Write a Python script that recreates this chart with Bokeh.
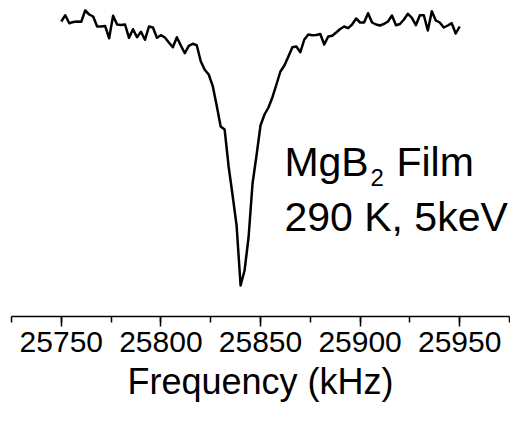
from bokeh.plotting import figure
from bokeh.models import Range1d, SingleIntervalTicker, Label
from bokeh.embed import file_html
from bokeh.resources import INLINE

# Frequency (kHz)
freq = [25750, 25752, 25754, 25756, 25758, 25760, 25762, 25764, 25766, 25768,
        25770, 25772, 25774, 25776, 25778, 25780, 25782, 25784, 25786, 25788,
        25790, 25792, 25794, 25796, 25798, 25800, 25802, 25804, 25806, 25808,
        25810, 25812, 25814, 25816, 25818, 25820, 25822, 25824, 25826, 25828,
        25830, 25832, 25834, 25836, 25838, 25840, 25842, 25844, 25846, 25848,
        25850, 25852, 25854, 25856, 25858, 25860, 25862, 25864, 25866, 25868,
        25870, 25872, 25874, 25876, 25878, 25880, 25882, 25884, 25886, 25888,
        25890, 25892, 25894, 25896, 25898, 25900, 25902, 25904, 25906, 25908,
        25910, 25912, 25914, 25916, 25918, 25920, 25922, 25924, 25926, 25928,
        25930, 25932, 25934, 25936, 25938, 25940, 25942, 25944, 25946, 25948,
        25950]

# Signal (arbitrary units)
signal = [295, 301.3, 293.3, 294.5, 295, 294.7, 306, 302, 300, 290,
          290, 290.5, 278.3, 300.7, 292, 291.5, 292, 278.7, 287.3, 279.3,
          284.7, 276.7, 290, 289, 278.7, 281.3, 279, 274, 269.3, 279.3,
          271, 263.3, 270.7, 272.7, 271.3, 255.3, 246.7, 242, 230.7, 211,
          190, 187, 150, 121, 91, 31, 46, 79, 133, 161,
          191, 202, 209, 219.3, 232, 245, 251, 260, 269.3, 270,
          264.3, 277, 282, 281.3, 281.5, 282.5, 272, 280, 280.7, 284,
          287.5, 290, 288.3, 292, 298, 294, 294, 303.3, 294, 292,
          291, 292.7, 295, 301, 291.3, 292.5, 297, 302.7, 298.7, 291.3,
          301.3, 301.3, 286, 305.3, 296, 294, 289, 291, 293.3, 283,
          290]

x_ticks_major = 50
x_start, x_end = 25725, 25975
y_start, y_end = 0, 316

FONT = "Liberation Sans"

p = figure(frame_width=498, frame_height=316,
           x_range=Range1d(x_start, x_end), y_range=Range1d(y_start, y_end),
           output_backend="svg", toolbar_location=None,
           y_axis_location=None, min_border_left=11, min_border_right=1,
           min_border_top=0, min_border_bottom=0)

p.line(freq, signal, line_color="black", line_width=2.5, line_join="round")

p.outline_line_color = None
p.grid.visible = False
p.background_fill_color = "white"
p.border_fill_color = "white"

ax = p.xaxis[0]
ax.ticker = SingleIntervalTicker(interval=x_ticks_major, num_minor_ticks=2)
ax.axis_line_width = 1.5
ax.axis_line_color = "black"
ax.major_tick_line_width = 1.5
ax.minor_tick_line_width = 1.5
ax.major_tick_in = 0
ax.major_tick_out = 10
ax.minor_tick_in = 0
ax.minor_tick_out = 6
ax.major_label_text_font = FONT
ax.major_label_text_font_size = "30px"
ax.major_label_text_color = "black"
ax.major_label_standoff = 5
ax.axis_label = "Frequency (kHz)"
ax.axis_label_text_font = FONT
ax.axis_label_text_font_size = "36px"
ax.axis_label_text_font_style = "normal"
ax.axis_label_text_color = "black"
ax.axis_label_standoff = 6

lx = 25862
common = dict(text_font=FONT, text_color="black", text_baseline="alphabetic")
p.add_layout(Label(x=lx, y=155, text="MgB", text_font_size="41px", **common))
p.add_layout(Label(x=lx, y=139, x_offset=86, text="2", text_font_size="24px", **common))
p.add_layout(Label(x=lx, y=155, x_offset=112, text="Film", text_font_size="41px", **common))
p.add_layout(Label(x=lx, y=100, text="290 K, 5keV", text_font_size="41px", **common))

open("out.html", "w").write(file_html(p, INLINE))
